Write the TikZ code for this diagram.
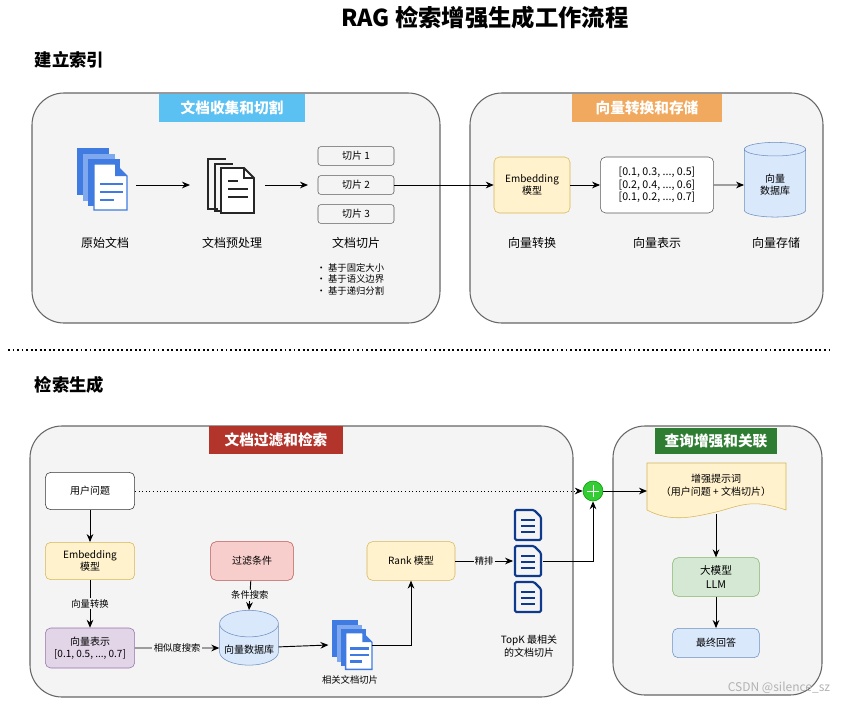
\documentclass[tikz,border=0pt]{standalone}
\usepackage{fontspec}
\setmainfont{Noto Sans CJK SC}
\usepackage{tikz}
\usetikzlibrary{positioning,shapes.geometric,arrows.meta}

\definecolor{yelF}{HTML}{FFF2CC}\definecolor{yelD}{HTML}{D6B656}
\definecolor{bluF}{HTML}{DAE8FC}\definecolor{bluD}{HTML}{6C8EBF}
\definecolor{redF}{HTML}{F8CECC}\definecolor{redD}{HTML}{B85450}
\definecolor{grnF}{HTML}{D5E8D4}\definecolor{grnD}{HTML}{82B366}
\definecolor{purF}{HTML}{E1D5E7}\definecolor{purD}{HTML}{9673A6}
\definecolor{docB}{HTML}{3F7BE0}\definecolor{docL}{HTML}{7FA8EE}
\definecolor{navy}{HTML}{0D3A8C}
\definecolor{tagC}{HTML}{5BC0F2}\definecolor{tagO}{HTML}{F0A95E}
\definecolor{tagR}{HTML}{B3342A}\definecolor{tagG}{HTML}{2E7D32}

\tikzset{
  panel/.style={draw=gray!80!black, fill=gray!9, rounded corners=24pt, line width=0.8pt},
  tag/.style={text=white, font=\bfseries\fontsize{11}{13}\selectfont, minimum height=21pt, inner sep=0pt},
  box/.style={draw, rounded corners=4pt, align=center, minimum width=67pt, minimum height=28pt, font=\fontsize{7.5}{9}\selectfont, inner sep=1pt},
  slice/.style={draw=gray!70!black, rounded corners=2pt, minimum width=57pt, minimum height=14pt, font=\fontsize{7.5}{9}\selectfont, inner sep=0pt},
  db/.style={cylinder, shape border rotate=90, draw=bluD, fill=bluF, aspect=0.35, align=center, font=\fontsize{7.5}{9}\selectfont},
  lbl/.style={font=\fontsize{9}{11}\selectfont},
  small/.style={font=\fontsize{7}{8.5}\selectfont},
  arr/.style={-{Stealth[length=6pt,width=5pt]}, line width=0.7pt},
}

% stacked blue document icon
\newcommand\bluedoc[2]{%
  \begin{scope}[shift={(#1)}, scale=#2]
    \fill[docB] (-25,-24) rectangle (7,23);
    \fill[docL] (-19,-18) rectangle (13,29);
    \fill[docB] (-14,-13) rectangle (18,34);
    \draw[docB, fill=white, line width=1pt] (-8,-8) -- (13,-8) -- (25,4) -- (25,38) -- (-8,38) -- cycle;
    \fill[docB] (13,-8) -- (25,4) -- (13,4) -- cycle;
    \foreach \yy/\ll in {12/26, 20/26, 28/16} \draw[docB, line width=1.8pt] (-2,\yy) -- ++(\ll*0.9,0);
  \end{scope}}

% small navy document icon
\newcommand\navydoc[1]{%
  \begin{scope}[shift={(#1)}]
    \draw[navy, line width=1.6pt, rounded corners=1pt] (-13,-15) -- (6,-15) -- (13,-8) -- (13,15) -- (-13,15) -- cycle;
    \foreach \yy in {-5,1,7} \draw[navy, line width=1.6pt] (-7,\yy) -- (7,\yy);
  \end{scope}}

\begin{document}
\begin{tikzpicture}[x=0.75pt, y=-0.75pt]
  \useasboundingbox (0,0) rectangle (841,703);
  \node[font=\bfseries\fontsize{17.5}{20}\selectfont] (title) at (485,18) {RAG 检索增强生成工作流程};

  % ---- 建立索引 ----
  \node[anchor=west, font=\bfseries\fontsize{13}{15}\selectfont] (s1) at (30,60) {建立索引};
  \draw[panel] (32,93) rectangle (440,323);
  \draw[panel] (470,93) rectangle (823,323);
  \node[tag, fill=tagC, minimum width=109pt] (t1) at (232,108) {文档收集和切割};
  \node[tag, fill=tagO, minimum width=112pt] (t2) at (647,108) {向量转换和存储};

  \node[minimum width=40pt, minimum height=44pt] (raw) at (105,182) {};
  \bluedoc{102,172}{1}
  \node[lbl] (rawl) at (105,243) {原始文档};
  \node[minimum width=36pt, minimum height=44pt] (pre) at (232,185) {};
  \begin{scope}[shift={(232,185)}, line width=1.4pt, black!85]
    \draw (-14,24) -- (-24,24) -- (-24,-26) -- (-6,-26);
    \draw (-9,26) -- (-17,26) -- (-17,-21) -- (1,-21);
    \draw[fill=white] (-11,-17) -- (12,-17) -- (22,-7) -- (22,28) -- (-11,28) -- cycle;
    \draw (12,-17) -- (12,-7) -- (22,-7);
    \draw (-4,-4) -- (6,-4); \draw (-4,4) -- (16,4); \draw (-4,12) -- (16,12);
  \end{scope}
  \node[lbl] (prel) at (232,243) {文档预处理};

  \node[slice] (c1) at (356,156) {切片 1};
  \node[slice] (c2) at (356,185) {切片 2};
  \node[slice] (c3) at (356,214) {切片 3};
  \node[lbl] (cl) at (356,243) {文档切片};
  \node[small, anchor=north west, align=left] (bul) at (312,259)
    {•\ 基于固定大小\\•\ 基于语义边界\\•\ 基于递归分割};

  \node[box, fill=yelF, draw=yelD, minimum width=57pt, minimum height=42pt] (emb) at (532,185) {Embedding\\模型};
  \node[box, fill=white, draw=gray!70!black, minimum width=85pt, minimum height=42pt, font=\fontsize{8}{9.5}\selectfont] (vec) at (657,185)
    {{[0.1, 0.3, ..., 0.5]}\\{[0.2, 0.4, ..., 0.6]}\\{[0.1, 0.2, ..., 0.7]}};
  \node[db, minimum width=46pt, minimum height=56pt] (store) at (775,185) {向量\\数据库};
  \node[lbl] (embl) at (532,243) {向量转换};
  \node[lbl] (vecl) at (657,243) {向量表示};
  \node[lbl] (storel) at (776,243) {向量存储};

  \draw[arr] (136,185) -- (190,185);
  \draw[arr] (265,185) -- (308,185);
  \draw[arr] (c2) -- (emb);
  \draw[arr] (emb) -- (vec);
  \draw[arr] (vec) -- (store);

  \draw[line width=1.4pt, dotted] (8,350) -- (830,350);

  % ---- 检索生成 ----
  \node[anchor=west, font=\bfseries\fontsize{13}{15}\selectfont] (s2) at (30,385) {检索生成};
  \draw[panel] (30,426) rectangle (573,697);
  \draw[panel] (613,426) rectangle (822,695);
  \node[tag, fill=tagR, minimum width=101pt] (t3) at (276,440) {文档过滤和检索};
  \node[tag, fill=tagG, minimum width=92pt, minimum height=20pt] (t4) at (716,441) {查询增强和关联};

  \node[box, fill=white, draw=black!80] (q) at (90,491) {用户问题};
  \node[box, fill=yelF, draw=yelD] (qemb) at (90,561) {Embedding\\模型};
  \node[box, fill=purF, draw=purD, minimum height=30pt] (qvec) at (90,648) {向量表示\\{[0.1, 0.5, ..., 0.7]}};
  \node[box, fill=redF, draw=redD, minimum width=62pt, minimum height=29pt] (flt) at (252,561) {过滤条件};
  \node[db, minimum width=44pt, minimum height=38pt, aspect=0.45] (vdb) at (249,648) {\\向量数据库};
  \node[minimum width=32pt, minimum height=36pt] (rel) at (350,645) {};
  \bluedoc{352,639}{0.8}
  \node[small] (rell) at (350,680) {相关文档切片};
  \node[box, fill=yelF, draw=yelD, minimum width=66pt, minimum height=29pt] (rank) at (411,561) {Rank 模型};

  \node[minimum width=22pt, minimum height=23pt] (k1) at (528,525) {};
  \node[minimum width=22pt, minimum height=23pt] (k2) at (528,561) {};
  \node[minimum width=22pt, minimum height=23pt] (k3) at (528,597) {};
  \navydoc{528,525} \navydoc{528,561} \navydoc{528,597}
  \node[small, align=center, font=\fontsize{7.5}{10}\selectfont] (topk) at (529,646) {TopK 最相关\\的文档切片};

  \node[circle, fill=green!75!black!80, draw=green!60!black, minimum size=15pt, inner sep=0pt] (plus) at (593,491) {};
  \draw[white, line width=0.6pt] (587,491) -- (599,491) (593,485) -- (593,497);

  % prompt shape
  \draw[draw=yelD, fill=yelF] (647,463) -- (786,463) -- (786,510)
    .. controls (751,498) and (740,506) .. (716,512) .. controls (690,518) and (670,522) .. (647,510) -- cycle;
  \node[font=\fontsize{7.5}{10}\selectfont, align=center] (prompt) at (716,485) {增强提示词\\（用户问题 + 文档切片）};
  \coordinate (pbot) at (716,514);
  \node[box, fill=grnF, draw=grnD, minimum width=65pt, minimum height=29pt, font=\fontsize{8}{10}\selectfont] (llm) at (716,577) {大模型\\LLM};
  \node[box, fill=bluF, draw=bluD, minimum width=65pt, minimum height=22pt] (ans) at (716,643) {最终回答};

  \draw[arr, dotted] (q) -- (plus);
  \draw[arr] (q) -- (qemb);
  \draw[arr] (qemb) -- node[small, fill=gray!9, inner sep=1pt] {向量转换} (qvec);
  \draw[arr] (qvec) -- node[small, fill=gray!9, inner sep=1pt] {相似度搜索} (vdb);
  \draw[arr] (flt) -- node[small, fill=gray!9, inner sep=1pt] {条件搜索} (vdb.north);
  \draw[arr] (vdb) -- (rel.west);
  \draw[arr] (rel.east) -| (rank);
  \draw[arr] (rank) -- node[small, fill=gray!9, inner sep=1pt] {精排} (k2);
  \draw[arr] (k2.east) -| (plus);
  \draw[arr] (plus) -- (647,491);
  \draw[arr] (pbot) -- (llm);
  \draw[arr] (llm) -- (ans);

  \node[font=\fontsize{9}{11}\selectfont, text=gray!60] (wm) at (779,688) {CSDN @silence\_sz};
\end{tikzpicture}
\end{document}
